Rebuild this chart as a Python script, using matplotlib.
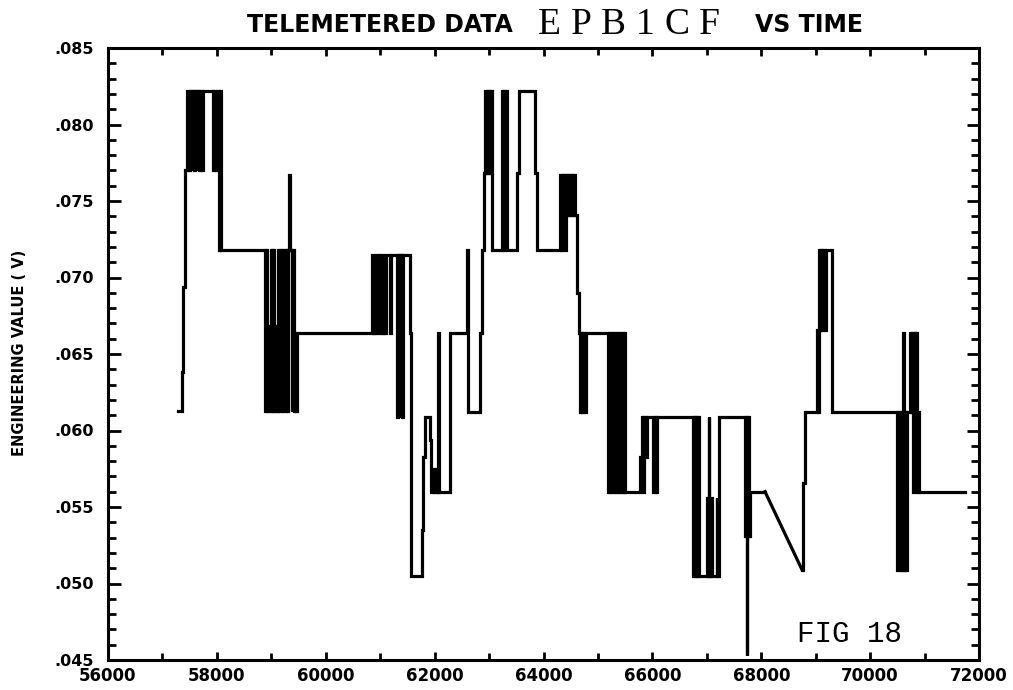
import matplotlib
matplotlib.use("Agg")
import matplotlib.pyplot as plt
from matplotlib.ticker import MultipleLocator, FuncFormatter

# ---------------- data ----------------
# telemetered samples before the data gap (drawn as a step trace)
time_a = [57286, 57359, 57378, 57415, 57451,
          57488, 57506, 57534, 57552, 57580, 57598, 57626, 57644, 57672, 57690, 57718, 57745,
          57929, 57956, 57984, 58011, 58039, 58057, 58076,
          58884, 58902, 58921, 58948, 58966, 58994, 59012, 59040, 59058, 59086, 59104, 59132,
          59150, 59178, 59196, 59215,
          59251, 59270, 59288, 59306, 59334, 59352, 59371, 59389, 59416,
          59435, 59462, 59481,
          60850, 60868, 60886, 60905, 60923, 60941, 60960, 60978, 60996, 61015, 61033, 61051,
          61070, 61088, 61106,
          61180, 61198, 61309, 61327, 61355, 61373, 61392, 61410,
          61548, 61575,
          61759, 61787, 61823, 61906, 61934,
          61970, 61989, 62025, 62044, 62071, 62089,
          62283, 62595, 62613, 62834, 62871, 62898, 62926,
          62944, 62963, 62981, 62999, 63018, 63036,
          63054, 63238,
          63256, 63275, 63293, 63311, 63330,
          63513, 63550, 63844, 63881, 64303,
          64321, 64340, 64358, 64377, 64395, 64413, 64432, 64450, 64469, 64487, 64505, 64524,
          64542, 64560, 64579,
          64615, 64652,
          64671, 64689, 64707, 64726, 64754, 64781,
          65185,
          65203, 65222, 65240, 65259, 65277, 65295, 65314, 65332, 65350, 65369, 65387, 65405,
          65424, 65442, 65461, 65479, 65497,
          65773, 65801, 65819, 65846, 65874, 65901,
          66012, 66049, 66067, 66085,
          66746, 66765, 66783, 66801, 66820, 66838, 66856,
          67004, 67022, 67037, 67049, 67086, 67104, 67178, 67196, 67215,
          67702, 67720, 67738, 67747, 67765, 67783, 67793, 68069]
value_a = [0.0613, 0.0638, 0.0694, 0.0770, 0.0822,
           0.0770, 0.0822, 0.0770, 0.0822, 0.0770, 0.0822, 0.0770, 0.0822, 0.0770, 0.0822, 0.0770, 0.0822,
           0.0770, 0.0822, 0.0770, 0.0822, 0.0718, 0.0822, 0.0718,
           0.0613, 0.0718, 0.0613, 0.0668, 0.0613, 0.0718, 0.0613, 0.0718, 0.0613, 0.0668, 0.0613, 0.0718,
           0.0613, 0.0718, 0.0613, 0.0718,
           0.0613, 0.0718, 0.0613, 0.0718, 0.0767, 0.0718, 0.0613, 0.0718, 0.0613,
           0.0642, 0.0613, 0.0664,
           0.0715, 0.0664, 0.0689, 0.0664, 0.0715, 0.0689, 0.0664, 0.0715, 0.0689, 0.0664, 0.0715, 0.0664,
           0.0689, 0.0664, 0.0715,
           0.0664, 0.0715, 0.0609, 0.0715, 0.0609, 0.0715, 0.0609, 0.0715,
           0.0664, 0.0505,
           0.0535, 0.0583, 0.0609, 0.0594, 0.0560,
           0.0575, 0.0560, 0.0575, 0.0560, 0.0664, 0.0560,
           0.0664, 0.0718, 0.0612, 0.0664, 0.0718, 0.0768, 0.0822,
           0.0768, 0.0822, 0.0768, 0.0822, 0.0768, 0.0822,
           0.0718, 0.0822,
           0.0718, 0.0822, 0.0740, 0.0822, 0.0718,
           0.0768, 0.0822, 0.0768, 0.0718, 0.0767,
           0.0718, 0.0767, 0.0741, 0.0767, 0.0718, 0.0767, 0.0741, 0.0767, 0.0741, 0.0767, 0.0741, 0.0767,
           0.0741, 0.0767, 0.0741,
           0.0690, 0.0664,
           0.0612, 0.0664, 0.0612, 0.0664, 0.0612, 0.0664,
           0.0560,
           0.0664, 0.0560, 0.0611, 0.0664, 0.0560, 0.0664, 0.0611, 0.0560, 0.0664, 0.0560, 0.0664, 0.0611,
           0.0560, 0.0664, 0.0560, 0.0664, 0.0560,
           0.0583, 0.0609, 0.0560, 0.0609, 0.0583, 0.0609,
           0.0560, 0.0609, 0.0560, 0.0609,
           0.0505, 0.0609, 0.0505, 0.0609, 0.0505, 0.0609, 0.0505,
           0.0556, 0.0505, 0.0609, 0.0505, 0.0556, 0.0505, 0.0556, 0.0505, 0.0609,
           0.0531, 0.0609, 0.0453, 0.0531, 0.0609, 0.0531, 0.0560, 0.0560]

# telemetered samples after the data gap
time_b = [68749, 68776, 68804, 69025,
          69043, 69062, 69080, 69098, 69117, 69135, 69172, 69190,
          69300, 70494,
          70512, 70531, 70549, 70567, 70586, 70604, 70622, 70641, 70659, 70678,
          70733, 70751, 70770, 70788, 70806, 70825, 70843, 70861, 70880, 70898, 70916, 71743]
value_b = [0.0509, 0.0566, 0.0612, 0.0666,
           0.0612, 0.0718, 0.0666, 0.0718, 0.0666, 0.0718, 0.0666, 0.0718,
           0.0612, 0.0509,
           0.0612, 0.0583, 0.0509, 0.0612, 0.0509, 0.0664, 0.0509, 0.0612, 0.0509, 0.0612,
           0.0664, 0.0612, 0.0664, 0.0560, 0.0664, 0.0612, 0.0664, 0.0560, 0.0612, 0.0560, 0.0560, 0.0560]

x_ticks = [56000, 58000, 60000, 62000, 64000, 66000, 68000, 70000, 72000]
y_ticks = [0.045, 0.050, 0.055, 0.060, 0.065, 0.070, 0.075, 0.080, 0.085]

# ---------------- figure ----------------
W, H = 1013, 690
fig = plt.figure(figsize=(W / 100, H / 100), dpi=100)
ax = fig.add_axes([108 / W, 1 - 660 / H, (979 - 108) / W, (660 - 48) / H])

lw = 2.3
ax.plot(time_a, value_a, drawstyle="steps-post", color="black", lw=lw, solid_joinstyle="miter")
ax.plot(time_b, value_b, drawstyle="steps-post", color="black", lw=lw, solid_joinstyle="miter")
# linear connection across the data gap
ax.plot([time_a[-1], time_b[0]], [value_a[-1], value_b[0]], color="black", lw=lw)

ax.set_xlim(x_ticks[0], x_ticks[-1])
ax.set_ylim(y_ticks[0], y_ticks[-1])
ax.set_xticks(x_ticks)
ax.set_yticks(y_ticks)
ax.xaxis.set_minor_locator(MultipleLocator(1000))
ax.yaxis.set_minor_locator(MultipleLocator(0.001))
ax.yaxis.set_major_formatter(FuncFormatter(lambda v, p: f"{v:.3f}"[1:]))
ax.xaxis.set_major_formatter(FuncFormatter(lambda v, p: f"{int(round(v))}"))

for s in ax.spines.values():
    s.set_linewidth(2.2)

ax.tick_params(axis="both", which="both", direction="in", top=True, right=True, width=2.0)
ax.tick_params(axis="x", which="major", length=6, pad=5)
ax.tick_params(axis="x", which="minor", length=5)
ax.tick_params(axis="y", which="major", length=9, pad=10)
ax.tick_params(axis="y", which="minor", length=6)

for lab in ax.get_xticklabels():
    lab.set_fontweight("bold")
    lab.set_fontsize(12)
for lab in ax.get_yticklabels():
    lab.set_fontweight("bold")
    lab.set_fontsize(11.5)

fig.text(20 / W, 1 - 353 / H, "ENGINEERING VALUE ( V)", rotation=90, ha="center", va="center",
         fontsize=10.5, fontweight="bold")

# title
fig.text(247 / W, 1 - 32 / H, "TELEMETERED DATA", ha="left", va="baseline",
         fontsize=17, fontweight="bold")
title_chars = ["E", "P", "B", "1", "C", "F"]
for i, ch in enumerate(title_chars):
    fig.text((549 + i * 32) / W, 1 - 34 / H, ch, ha="center", va="baseline",
             fontsize=27, family="Liberation Serif")
fig.text(755 / W, 1 - 32 / H, "VS TIME", ha="left", va="baseline",
         fontsize=17, fontweight="bold")

fig.text(797 / W, 1 - 642 / H, "FIG 18", ha="left", va="baseline",
         fontsize=21, family="Liberation Mono")

fig.savefig("out.png", dpi=100, facecolor="white")
